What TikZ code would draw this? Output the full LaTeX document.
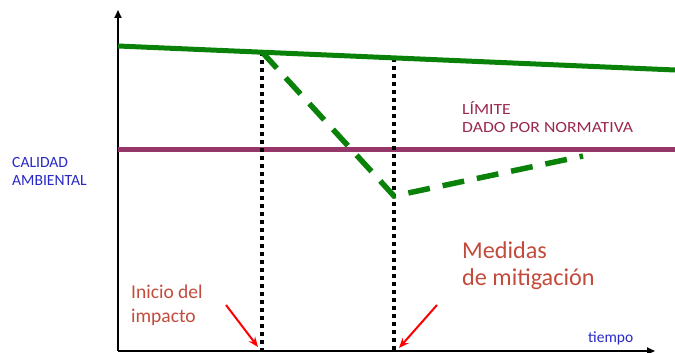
\documentclass[tikz,border=0pt]{standalone}
\usepackage{fontspec}
\usepackage{graphicx}
\setmainfont{Carlito}
\usetikzlibrary{arrows.meta}
\definecolor{axblue}{RGB}{40,40,200}
\definecolor{limpurple}{RGB}{150,55,105}
\definecolor{limtext}{RGB}{155,40,80}
\definecolor{mygreen}{RGB}{10,130,10}
\definecolor{redtext}{RGB}{195,75,60}
\tikzset{
  axis/.style={line width=1.8pt,-{Triangle[length=8pt,width=7pt]}},
  dotline/.style={line width=4pt,dash pattern=on 4pt off 4pt},
  greenline/.style={line width=5pt,mygreen},
  greendash/.style={line width=5.5pt,mygreen,dash pattern=on 22pt off 13pt},
  redarrow/.style={line width=2pt,red,-{Stealth[length=10pt,width=8pt]}},
  lbl/.style={anchor=base west,align=left,inner sep=0pt},
}
\begin{document}
\begin{tikzpicture}[x=1pt,y=-1pt]
\useasboundingbox (0,0) rectangle (675,353);
% axes
\coordinate (o) at (118,351);
\coordinate (ytop) at (118,10);
\coordinate (xend) at (655,351);
\draw[axis] (o) -- (ytop);
\draw[axis] (o) -- (xend);
% limit line
\coordinate (l1) at (118,149);
\coordinate (l2) at (675,149);
\draw[line width=5pt,limpurple] (l1) -- (l2);
% dotted verticals
\coordinate (d1t) at (262,52);
\coordinate (d1b) at (262,353);
\coordinate (d2t) at (394,58);
\coordinate (d2b) at (394,353);
\draw[dotline] (d1t) -- (d1b);
\draw[dotline] (d2t) -- (d2b);
% green quality line
\coordinate (g1) at (118,46);
\coordinate (g2) at (675,70);
\draw[greenline] (g1) -- (g2);
% dashed impact path
\coordinate (v) at (394,196);
\coordinate (e) at (583,156);
\draw[greendash] (d1t) -- (v) -- (e);
% labels
\node[lbl,font=\fontsize{15.6}{18}\selectfont,text=axblue] (cal) at (12,185) {CALIDAD\\AMBIENTAL};
\node[lbl,font=\fontsize{15.5}{18}\selectfont,text=limtext] (lim) at (462,132) {\scalebox{1.14}[1]{LÍMITE}\\\scalebox{1.14}[1]{DADO POR NORMATIVA}};
\node[lbl,font=\fontsize{24.2}{27}\selectfont,text=redtext] (med) at (462,285) {Medidas\\de mitigación};
\node[lbl,font=\fontsize{19.5}{24}\selectfont,text=redtext] (ini) at (131,322) {Inicio del\\impacto};
\node[lbl,font=\fontsize{15.5}{18}\selectfont,text=axblue] (tie) at (588,342) {tiempo};
% red arrows
\coordinate (a1s) at (226,305);
\coordinate (a1e) at (258,347);
\coordinate (a2s) at (437,305);
\coordinate (a2e) at (399,348);
\draw[redarrow] (a1s) -- (a1e);
\draw[redarrow] (a2s) -- (a2e);
\end{tikzpicture}
\end{document}
